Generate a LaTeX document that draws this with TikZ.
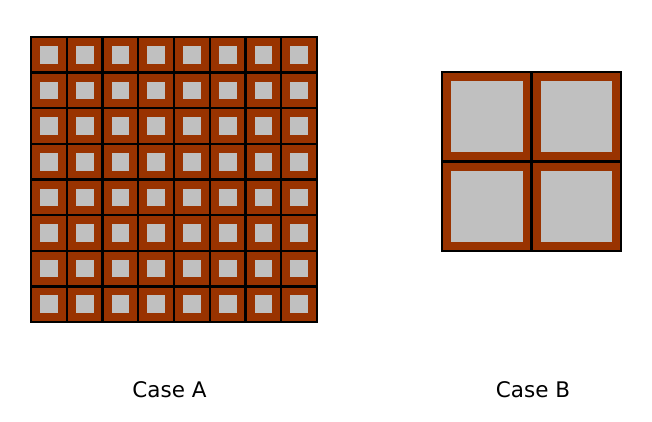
\documentclass[tikz,border=0pt]{standalone}
\usepackage{fontspec}
\setmainfont{DejaVu Sans}
\definecolor{brick}{RGB}{153,51,0}
\definecolor{lgray}{RGB}{192,192,192}
\begin{document}
\begin{tikzpicture}[x=1pt,y=-1pt,
  core/.style={fill=lgray,draw=none},
  gridline/.style={line width=2.4pt,draw=black},
  caption/.style={font=\fontsize{21.5}{24}\selectfont,inner sep=0pt}]
\useasboundingbox (0,0) rectangle (652,422);
% Case A
\foreach \i in {0,...,7}{
  \foreach \j in {0,...,7}{
    \pgfmathsetmacro{\xa}{31+35.75*\i}
    \pgfmathsetmacro{\ya}{37+35.625*\j}
    \fill[brick] (\xa,\ya) rectangle ++(35.75,35.625);
    \fill[core] (\xa+9,\ya+9) rectangle ++(17.75,17.625);
  }
}
\foreach \k in {1,...,7}{
  \draw[gridline] (31+35.75*\k,37) -- (31+35.75*\k,322);
  \draw[gridline] (31,37+35.625*\k) -- (317,37+35.625*\k);
}
\draw[gridline] (31,37) rectangle (317,322);
% Case B
\foreach \i in {0,1}{
  \foreach \j in {0,1}{
    \pgfmathsetmacro{\xa}{442+89.5*\i}
    \pgfmathsetmacro{\ya}{72+89.5*\j}
    \fill[brick] (\xa,\ya) rectangle ++(89.5,89.5);
    \fill[core] (\xa+9,\ya+9) rectangle ++(71.5,71.5);
  }
}
\draw[gridline] (442,72) rectangle (621,251);
\draw[gridline] (531.5,72) -- (531.5,251);
\draw[gridline] (442,161.5) -- (621,161.5);
\node[caption] (capA) at (169.5,390) {Case A};
\node[caption] (capB) at (533,390) {Case B};
\end{tikzpicture}
\end{document}
